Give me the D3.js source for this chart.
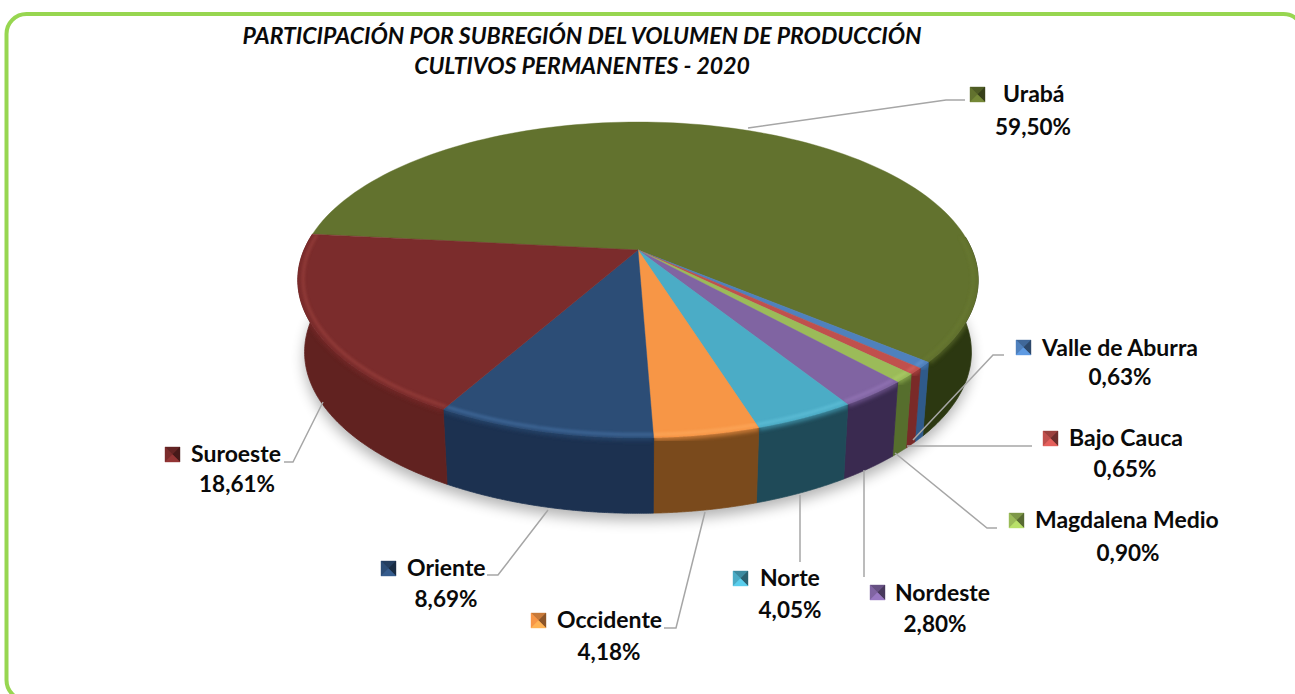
<!DOCTYPE html>
<html>
<head>
<meta charset="utf-8">
<script src="https://cdn.jsdelivr.net/npm/d3@7"></script>
<style>
  html, body { margin: 0; padding: 0; background: #fff; overflow: hidden; }
  text { font-family: Lato, "Open Sans", sans-serif; font-weight: 700; fill: #0a0a0a; }
</style>
</head>
<body>
<div id="chartContainer"></div>
<script>
var titleLines = ["PARTICIPACIÓN POR SUBREGIÓN DEL VOLUMEN DE PRODUCCIÓN", "CULTIVOS PERMANENTES - 2020"];
var categories = ["Urabá", "Valle de Aburra", "Bajo Cauca", "Magdalena Medio", "Nordeste", "Norte", "Occidente", "Oriente", "Suroeste"];
var shares = [59.50, 0.63, 0.65, 0.90, 2.80, 4.05, 4.18, 8.69, 18.61];
var shareLabels = ["59,50%", "0,63%", "0,65%", "0,90%", "2,80%", "4,05%", "4,18%", "8,69%", "18,61%"];

var topColors = ["#62722e", "#4f81bd", "#c0504d", "#9bbb59", "#8064a2", "#4bacc6", "#f79646", "#2c4d76", "#7b2c2c"];
var wallColors = ["#2c3811", "#2f5a8a", "#7a2a28", "#566e2d", "#3a2a50", "#1f4a58", "#7a4a1c", "#1c3150", "#612220"];
var rimColors = ["#6a7b33", "#6d9bd2", "#d86a66", "#b2d26c", "#9a7cbd", "#66c6df", "#ffae62", "#4a76aa", "#a0453f"];

// where each label sits: key square, name start, value centre, leader line
var labelLayout = [
  { key: [970, 87],   nameX: 1003, nameY: 102, valX: 1033, valY: 135, leader: [[748, 128], [946, 100], [965, 100]] },
  { key: [1016, 340], nameX: 1042, nameY: 356, valX: 1120, valY: 385, leader: [[913, 440], [993, 355], [1004, 355]] },
  { key: [1043, 431], nameX: 1069, nameY: 446, valX: 1125, valY: 477, leader: [[907, 446], [1032, 446]] },
  { key: [1009, 513], nameX: 1035, nameY: 528, valX: 1128, valY: 561, leader: [[895, 453], [987, 528], [997, 528]] },
  { key: [870, 585],  nameX: 895,  nameY: 601, valX: 935,  valY: 632, leader: [[864, 470], [864, 577]] },
  { key: [733, 571],  nameX: 760,  nameY: 586, valX: 790,  valY: 618, leader: [[800, 495], [800, 562]] },
  { key: [531, 613],  nameX: 557,  nameY: 628, valX: 609,  valY: 660, leader: [[705, 512], [676, 628], [664, 628]] },
  { key: [381, 561],  nameX: 407,  nameY: 576, valX: 446,  valY: 607, leader: [[548, 510], [498, 575], [487, 575]] },
  { key: [165, 447],  nameX: 191,  nameY: 462, valX: 237,  valY: 492, leader: [[323, 402], [293, 462], [284, 462]] }
];

var width = 1295, height = 694;
var svg = d3.select("#chartContainer").append("svg").attr("width", width).attr("height", height);
var defs = svg.append("defs");
defs.append("filter").attr("id", "blurBig").attr("x", "-10%").attr("y", "-10%").attr("width", "120%").attr("height", "130%")
  .append("feGaussianBlur").attr("stdDeviation", 7);
defs.append("filter").attr("id", "blurSmall").attr("x", "-10%").attr("y", "-10%").attr("width", "120%").attr("height", "120%")
  .append("feGaussianBlur").attr("stdDeviation", 1.5);
defs.append("filter").attr("id", "blurEdge").attr("x", "-10%").attr("y", "-30%").attr("width", "120%").attr("height", "160%")
  .append("feGaussianBlur").attr("stdDeviation", 2.2);

svg.append("rect").attr("x", 6.5).attr("y", 14).attr("width", 1297).attr("height", 686).attr("rx", 20)
  .attr("fill", "#fff").attr("stroke", "#97d650").attr("stroke-width", 4);

// perspective tilt of the pie: the far half is squeezed, the near half stretched
var cx = 638, cy = 250, a = 334, b = 152.3, k = 0.19, depth = 71.5;
var pie = d3.pie().value(function (d) { return d; }).sort(null)
  .startAngle(-83.9 * Math.PI / 180).endAngle((360 - 83.9) * Math.PI / 180);
var slices = pie(shares);

function project(angle, r) {
  var u = r * Math.sin(angle), v = -r * Math.cos(angle), w = 1 - k * v;
  return [cx + a * u / w, cy + b * v / w];
}
function projectLow(angle) {
  var u = Math.sin(angle), v = -Math.cos(angle), w = 1 - k * v;
  return [cx + 0.98 * a * u / w, cy + depth + 1.02 * b * v / w];
}
function arcPoints(fn, a0, a1) {
  return d3.range(0, 121).map(function (i) { return fn(a0 + (a1 - a0) * i / 120); });
}
var line = d3.line();

// soft shadow under the disc
svg.append("path")
  .attr("d", line(arcPoints(function (t) { var p = projectLow(t); return [p[0], p[1] + 7]; }, 0, 2 * Math.PI)) + "Z")
  .attr("fill", "#000").attr("opacity", 0.3).attr("filter", "url(#blurBig)");

// side wall, only the part that faces the viewer
var visFrom = 85 * Math.PI / 180, visTo = 276 * Math.PI / 180;
slices.forEach(function (s, i) {
  var a0 = Math.max(s.startAngle, visFrom), a1 = Math.min(s.endAngle, visTo);
  if (a1 <= a0) return;
  var top = arcPoints(function (t) { return project(t, 1); }, a0, a1);
  var low = arcPoints(projectLow, a0, a1).reverse();
  var d = line(top.concat(low)) + "Z";
  defs.append("clipPath").attr("id", "wall" + i).append("path").attr("d", d);
  // thin stroke of its own colour closes the seam to the next wall panel
  svg.append("path").attr("d", d).attr("fill", wallColors[i]).attr("stroke", wallColors[i]).attr("stroke-width", 0.8);
  // shoulder: the face colour melts into the wall just under the rim
  svg.append("g").attr("clip-path", "url(#wall" + i + ")")
    .append("path").attr("d", line(top)).attr("fill", "none").attr("stroke", topColors[i])
    .attr("stroke-width", 5).attr("opacity", 0.7).attr("filter", "url(#blurEdge)");
});

// top face
var faces = svg.append("g");
slices.forEach(function (s, i) {
  var outline = [[cx, cy]].concat(arcPoints(function (t) { return project(t, 1); }, s.startAngle, s.endAngle));
  var d = line(outline) + "Z";
  defs.append("clipPath").attr("id", "slice" + i).append("path").attr("d", d);
  faces.append("path").attr("d", d).attr("fill", topColors[i]).attr("stroke", topColors[i]).attr("stroke-width", 0.4);

  var a0 = Math.max(s.startAngle, visFrom), a1 = Math.min(s.endAngle, visTo);
  if (a1 > a0) {
    // light bevel running just inside the rim
    faces.append("g").attr("clip-path", "url(#slice" + i + ")")
      .append("path").attr("d", line(arcPoints(function (t) { return project(t, 0.985); }, a0, a1)))
      .attr("fill", "none").attr("stroke", rimColors[i]).attr("stroke-width", 2.5)
      .attr("opacity", 0.75).attr("filter", "url(#blurSmall)");
  }
});

// leader lines
var leaders = svg.append("g");
labelLayout.forEach(function (l) {
  leaders.append("path").attr("d", line(l.leader)).attr("fill", "none")
    .attr("stroke", "#a6a6a6").attr("stroke-width", 1.5);
});

// labels with little bevelled key squares
var keySize = 15;
labelLayout.forEach(function (l, i) {
  var x = l.key[0], y = l.key[1], s = keySize, m = s / 2;
  var c = d3.color(topColors[i]);
  svg.append("rect").attr("x", x).attr("y", y).attr("width", s).attr("height", s).attr("fill", c);
  var keyFaces = [
    { pts: [[x, y], [x + s, y], [x + m, y + m]], fill: c.darker(0.6) },
    { pts: [[x, y], [x + m, y + m], [x, y + s]], fill: c },
    { pts: [[x + s, y], [x + s, y + s], [x + m, y + m]], fill: c.darker(1.6) },
    { pts: [[x, y + s], [x + m, y + m], [x + s, y + s]], fill: c.brighter(0.5) }
  ];
  keyFaces.forEach(function (f) {
    svg.append("path").attr("d", line(f.pts) + "Z").attr("fill", f.fill)
      .attr("stroke", f.fill).attr("stroke-width", 0.4);
  });
  svg.append("text").attr("x", l.nameX).attr("y", l.nameY).style("font-size", "23px").text(categories[i]);
  svg.append("text").attr("x", l.valX).attr("y", l.valY).attr("text-anchor", "middle").style("font-size", "22.5px").text(shareLabels[i]);
});

// title
svg.selectAll("text.title").data(titleLines).enter().append("text").attr("class", "title")
  .attr("x", 582).attr("y", function (d, i) { return 44 + i * 30; })
  .attr("text-anchor", "middle").style("font-size", "23px").style("font-style", "italic")
  .text(function (d) { return d; });
</script>
</body>
</html>
